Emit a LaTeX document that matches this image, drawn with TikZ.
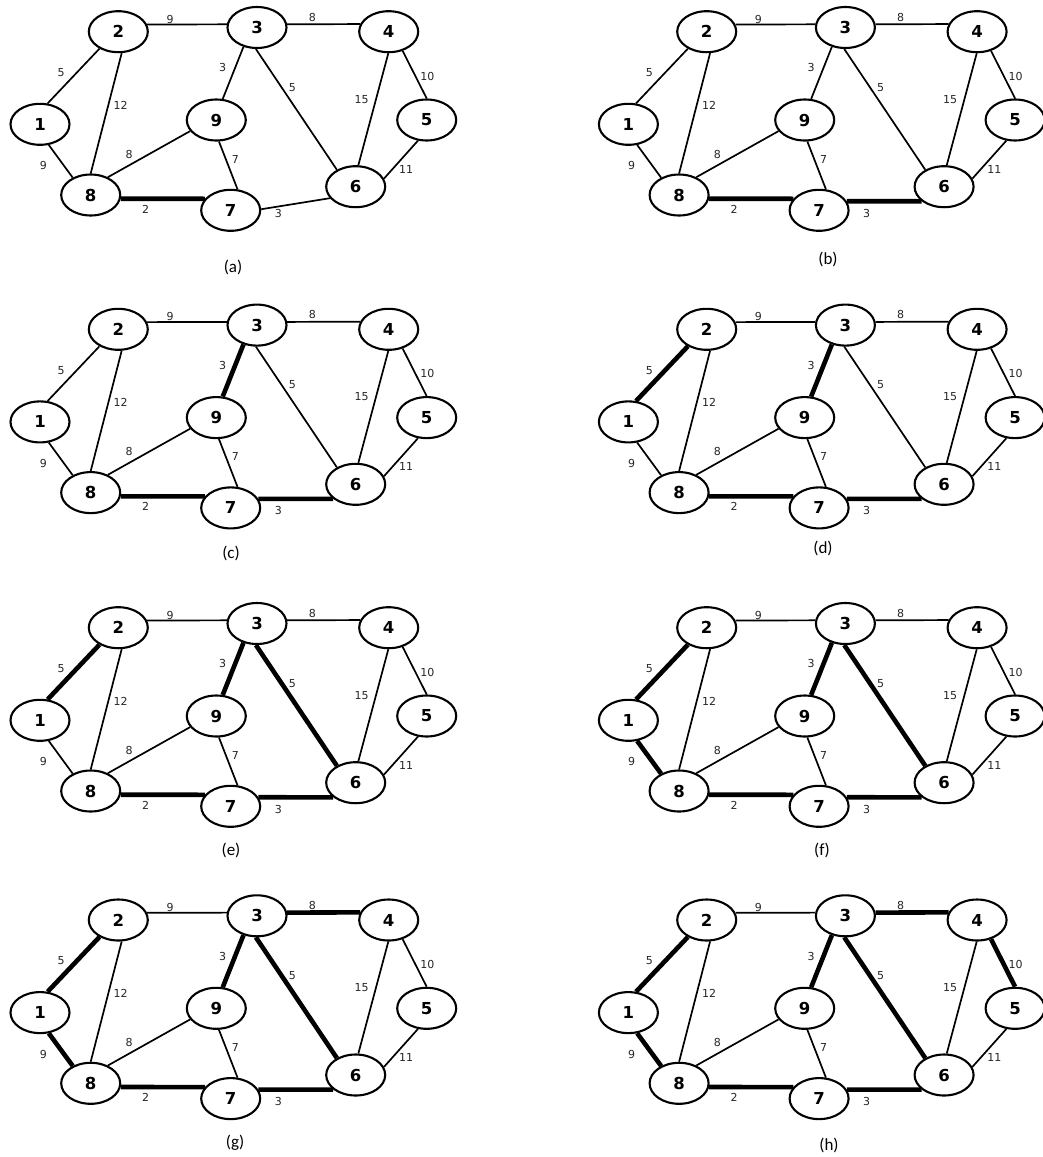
\documentclass[tikz,border=0pt]{standalone}
\usepackage{fontspec}
\setmainfont{DejaVu Sans}
\newfontfamily\capfont{Carlito}
\usetikzlibrary{shapes.geometric}
\tikzset{
  vtx/.style={ellipse, draw=black, line width=2.1pt, minimum width=59pt, minimum height=41pt, inner sep=0pt,
    font=\fontsize{16.5}{16.5}\selectfont\bfseries, text=black},
  wlbl/.style={font=\fontsize{11}{11}\selectfont, text=black!85, inner sep=0pt},
  captxt/.style={font=\capfont\fontsize{17}{17}\selectfont, text=black, inner sep=0pt},
  ledge/.style={line width=1.7pt},
  hedge/.style={line width=4.6pt},
  E21/.style=ledge, E23/.style=ledge, E34/.style=ledge, E28/.style=ledge,
  E39/.style=ledge, E36/.style=ledge, E46/.style=ledge, E45/.style=ledge,
  E18/.style=ledge, E98/.style=ledge, E97/.style=ledge, E56/.style=ledge,
  E87/.style=ledge, E76/.style=ledge
}
\newcommand\drawpanel[7]{%
\begin{scope}[shift={#2},#5]
  \node[vtx] (#1n1) at (40,124.3) {1};
  \node[vtx] (#1n2) at (118.3,31.7) {2};
  \node[vtx] (#1n3) at (257,27.5) {3};
  \node[vtx] (#1n4) at (388.7,31.7) {4};
  \node[vtx] (#1n5) at (426.7,120) {5};
  \node[vtx] (#1n6) at (355.7,186.7) {6};
  \node[vtx] (#1n7) at (230.7,210.3) {7};
  \node[vtx] (#1n8) at (90.7,195) {8};
  \node[vtx] (#1n9) at (216.3,120) {9};
  \draw[E23] (#1n2.14.3) -- (#1n3.174);
  \draw[E34] (#1n3.6) -- (#1n4.165.7);
  \draw[E21] (#1n2.222.6) -- (#1n1.70);
  \draw[E28] (#1n2.279) -- (#1n8.90);
  \draw[E39] (#1n3.235.5) -- (#1n9.73.7);
  \draw[E36] (#1n3.267) -- (#1n6.138);
  \draw[E46] (#1n4.269) -- (#1n6.83);
  \draw[E45] (#1n4.306) -- (#1n5.90);
  \draw[E18] (#1n1.293.6) -- (#1n8.136);
  \draw[E98] (#1n9.203.4) -- (#1n8.46.5);
  \draw[E97] (#1n9.277) -- (#1n7.72);
  \draw[E56] (#1n5.247.4) -- (#1n6.16.8);
  \draw[E87] (#1n8.353.7) -- (#1n7.156);
  \draw[E76] (#1n7.#6) -- (#1n6.#7);
  \node[wlbl] (#1w23) at (170,19) {9};
  \node[wlbl] (#1w34) at (312.3,17.3) {8};
  \node[wlbl] (#1w21) at (61,72.7) {5};
  \node[wlbl] (#1w28) at (120.7,105) {12};
  \node[wlbl] (#1w39) at (222.7,67.7) {3};
  \node[wlbl] (#1w36) at (292.3,87.3) {5};
  \node[wlbl] (#1w46) at (361.7,99.3) {15};
  \node[wlbl] (#1w45) at (427.3,76) {10};
  \node[wlbl] (#1w18) at (43.3,165.7) {9};
  \node[wlbl] (#1w98) at (129,154.3) {8};
  \node[wlbl] (#1w97) at (235.3,159) {7};
  \node[wlbl] (#1w56) at (406,169.3) {11};
  \node[wlbl] (#1w87) at (145.7,209) {2};
  \node[wlbl] (#1w76) at (278.3,213.3) {3};
\end{scope}
\node[captxt] (#1cap) at #4 {#3};
}
\begin{document}
\begin{tikzpicture}[x=1pt,y=-1pt]
  \useasboundingbox (0,0) rectangle (1042,1157);
  \fill[white] (0,0) rectangle (1042,1157);
  \drawpanel{a}{(0,0)}{(a)}{(233,267)}{E87/.style=hedge}{2}{204}
  \drawpanel{b}{(588.4,0)}{(b)}{(828,259)}{E87/.style=hedge,E76/.style=hedge}{18}{213}
  \drawpanel{c}{(0,297.6)}{(c)}{(231,553)}{E87/.style=hedge,E76/.style=hedge,E39/.style=hedge}{18}{213}
  \drawpanel{d}{(588.4,297.6)}{(d)}{(823,548)}{E87/.style=hedge,E76/.style=hedge,E39/.style=hedge,E21/.style=hedge}{18}{213}
  \drawpanel{e}{(0,596)}{(e)}{(231,850)}{E87/.style=hedge,E76/.style=hedge,E39/.style=hedge,E21/.style=hedge,E36/.style=hedge}{18}{213}
  \drawpanel{f}{(588.4,596)}{(f)}{(822,850)}{E87/.style=hedge,E76/.style=hedge,E39/.style=hedge,E21/.style=hedge,E36/.style=hedge,E18/.style=hedge}{18}{213}
  \drawpanel{g}{(0,888.3)}{(g)}{(235,1143)}{E87/.style=hedge,E76/.style=hedge,E39/.style=hedge,E21/.style=hedge,E36/.style=hedge,E18/.style=hedge,E34/.style=hedge}{18}{213}
  \drawpanel{h}{(588.4,888.3)}{(h)}{(829,1145)}{E87/.style=hedge,E76/.style=hedge,E39/.style=hedge,E21/.style=hedge,E36/.style=hedge,E18/.style=hedge,E34/.style=hedge,E45/.style=hedge}{18}{213}
\end{tikzpicture}
\end{document}
